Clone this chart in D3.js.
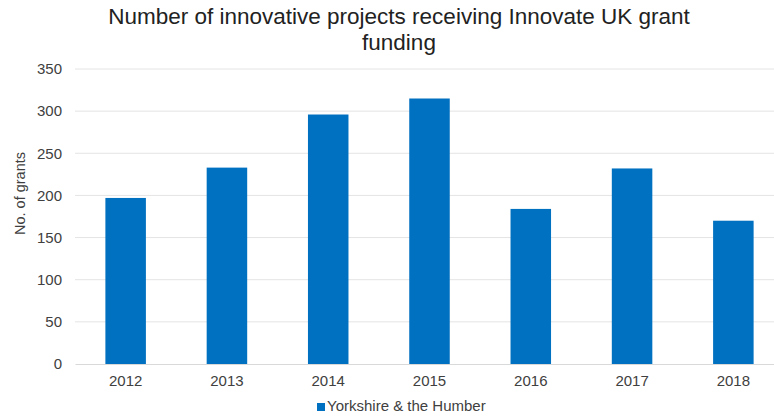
<!DOCTYPE html>
<html>
<head>
<meta charset="utf-8">
<script src="https://cdn.jsdelivr.net/npm/d3@7"></script>
<style>
  body { margin: 0; background: #fff; }
  text { font-family: "Liberation Sans", Arial, sans-serif; }
</style>
</head>
<body>
<div id="chart"></div>
<script>
const years = ['2012', '2013', '2014', '2015', '2016', '2017', '2018'];
const grants = [197, 233, 296, 315, 184, 232, 170];
const yTicks = [0, 50, 100, 150, 200, 250, 300, 350];
const seriesName = 'Yorkshire & the Humber';
const titleLines = ['Number of innovative projects receiving Innovate UK grant', 'funding'];

const svgWidth = 774;
const svgHeight = 418;
const margin = { top: 69, right: -10, bottom: 54, left: 75 };
const width = svgWidth - margin.left - margin.right;
const height = svgHeight - margin.top - margin.bottom;

const svg = d3.select('#chart')
    .append('svg')
    .attr('width', svgWidth)
    .attr('height', svgHeight);

const g = svg.append('g')
    .attr('transform', `translate(${margin.left},${margin.top})`);

const xScale = d3.scaleBand()
    .domain(years)
    .range([0, width])
    .paddingInner(0.6)
    .paddingOuter(0.3);

const yScale = d3.scaleLinear()
    .domain([0, 350])
    .range([height, 0]);

// gridlines
g.append('g')
    .selectAll('line')
    .data(yTicks.slice(1))
    .enter()
    .append('line')
    .attr('x1', 0)
    .attr('x2', width)
    .attr('y1', d => yScale(d))
    .attr('y2', d => yScale(d))
    .attr('stroke', '#e4e4e4')
    .attr('stroke-width', 1);

g.selectAll('rect.bar')
    .data(years.map((y, i) => ({ year: y, value: grants[i] })))
    .enter()
    .append('rect')
    .attr('class', 'bar')
    .attr('x', d => xScale(d.year))
    .attr('y', d => yScale(d.value))
    .attr('width', xScale.bandwidth())
    .attr('height', d => height - yScale(d.value))
    .attr('fill', '#0070c0');

// y axis
const yAxis = g.append('g')
    .call(d3.axisLeft(yScale).tickValues(yTicks).tickSize(0).tickPadding(13));
yAxis.select('.domain').remove();
yAxis.selectAll('text')
    .style('font-size', '15px')
    .attr('fill', '#404040');

// x axis
const xAxis = g.append('g')
    .attr('transform', `translate(0,${height})`)
    .call(d3.axisBottom(xScale).tickSize(0).tickPadding(11));
xAxis.select('.domain').attr('stroke', '#d9d9d9');
xAxis.selectAll('text')
    .style('font-size', '15px')
    .attr('fill', '#404040');

// y axis title
svg.append('text')
    .attr('transform', `translate(25,${margin.top + height / 2 - 23}) rotate(-90)`)
    .attr('text-anchor', 'middle')
    .style('font-size', '14.5px')
    .attr('fill', '#404040')
    .text('No. of grants');

// title
svg.append('text')
    .attr('x', 399)
    .attr('y', 24)
    .attr('text-anchor', 'middle')
    .style('font-size', '22.5px')
    .attr('fill', '#222')
    .selectAll('tspan')
    .data(titleLines)
    .enter()
    .append('tspan')
    .attr('x', 399)
    .attr('dy', (d, i) => i === 0 ? 0 : 26)
    .text(d => d);

// legend
const legend = svg.append('g')
    .attr('transform', 'translate(317,411)');
legend.append('rect')
    .attr('x', 0)
    .attr('y', -8)
    .attr('width', 8)
    .attr('height', 8)
    .attr('fill', '#0070c0');
legend.append('text')
    .attr('x', 10)
    .attr('y', 0)
    .style('font-size', '15px')
    .attr('fill', '#404040')
    .text(seriesName);
</script>
</body>
</html>
